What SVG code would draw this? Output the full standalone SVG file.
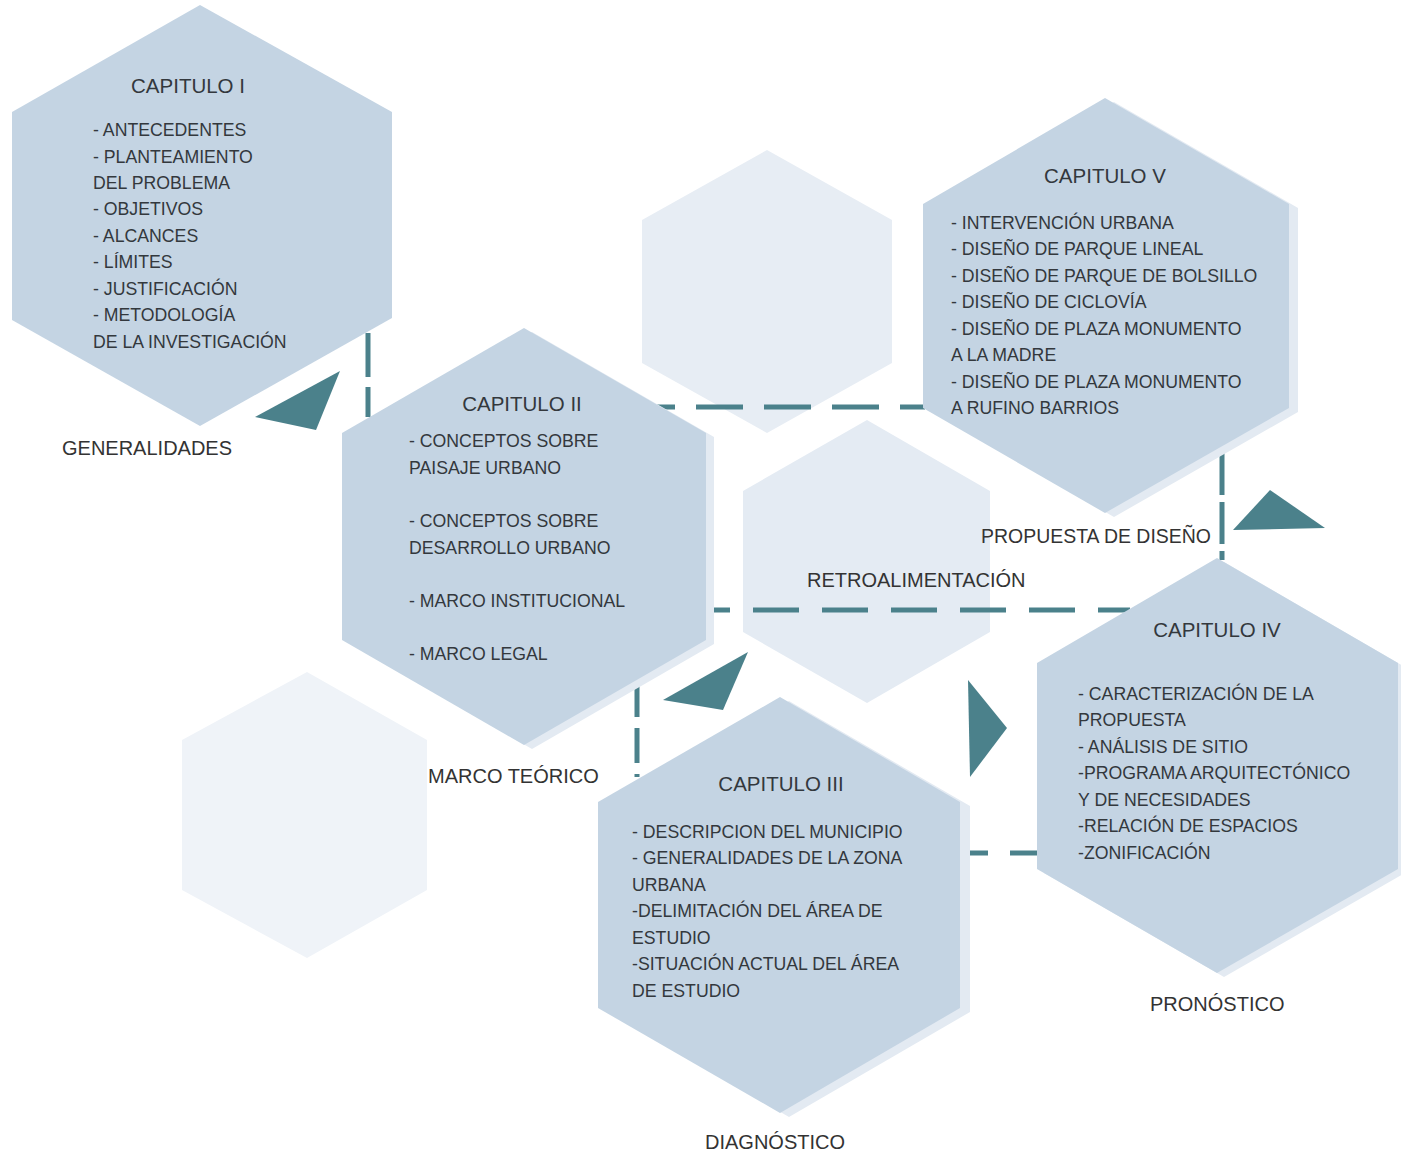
<svg xmlns="http://www.w3.org/2000/svg" width="1401" height="1157" viewBox="0 0 1401 1157">
<style>
.hex{fill:#c4d4e3}
.shadow{fill:#e3eaf2}
.faint{fill:#e7edf4}
.dash{stroke:#4b818b;stroke-width:5;fill:none}
.tri{fill:#4b818b}
text{font-family:"Liberation Sans",Arial,sans-serif;fill:#33383d}
.title{font-size:20.5px;text-anchor:middle}
.body{font-size:17.7px}
.label{font-size:20px;fill:#333333}
</style>
<rect width="1401" height="1157" fill="#ffffff"/>
<g id="background-hexes">
<polygon class="faint" points="767,150 892,220 892,363 767,433 642,363 642,220"/>
<polygon class="faint" style="fill:#e4ebf3" points="867,420 990,491 990,632 867,703 743,632 743,491"/>
<polygon class="faint" style="fill:#eff3f8" points="307,672 427,740 427,890 307,958 182,890 182,740"/>
</g>
<g id="connectors">
<line class="dash" x1="368" y1="333" x2="368" y2="417" stroke-dasharray="44 10"/>
<line class="dash" x1="655" y1="407" x2="925" y2="407" stroke-dasharray="47 21" stroke-dashoffset="27"/>
<line class="dash" x1="1222" y1="453" x2="1222" y2="560" stroke-dasharray="42 7"/>
<line class="dash" x1="703" y1="610" x2="1130" y2="610" stroke-dasharray="46 23" stroke-dashoffset="19"/>
<line class="dash" x1="637" y1="682" x2="637" y2="777" stroke-dasharray="35 11"/>
<line class="dash" x1="960" y1="853" x2="1037" y2="853" stroke-dasharray="28 22"/>
</g>
<g id="arrows">
<polygon class="tri" points="340,371 255,417 316,430"/>
<polygon class="tri" points="748,652 663,700 723,710"/>
<polygon class="tri" points="968,680 1007,728 970,777"/>
<polygon class="tri" points="1270,490 1233,530 1325,528"/>
</g>
<g id="capitulo-i">
<polygon class="hex" points="200,5 392,112 392,318 200,426 12,320 12,112"/>
<text class="title" x="188" y="93">CAPITULO I</text>
<text class="body" x="93" y="136">- ANTECEDENTES</text>
<text class="body" x="93" y="163">- PLANTEAMIENTO</text>
<text class="body" x="93" y="189">DEL PROBLEMA</text>
<text class="body" x="93" y="215">- OBJETIVOS</text>
<text class="body" x="93" y="242">- ALCANCES</text>
<text class="body" x="93" y="268">- LÍMITES</text>
<text class="body" x="93" y="295">- JUSTIFICACIÓN</text>
<text class="body" x="93" y="321">- METODOLOGÍA</text>
<text class="body" x="93" y="348">DE LA INVESTIGACIÓN</text>
<text class="label" x="62" y="455">GENERALIDADES</text>
</g>
<g id="capitulo-ii">
<polygon class="shadow" points="532,332 714,437 714,644 532,749 350,644 350,437"/>
<polygon class="hex" points="524,328 706,433 706,640 524,745 342,640 342,433"/>
<text class="title" x="522" y="411">CAPITULO II</text>
<text class="body" x="409" y="447">- CONCEPTOS SOBRE</text>
<text class="body" x="409" y="474">PAISAJE URBANO</text>
<text class="body" x="409" y="527">- CONCEPTOS SOBRE</text>
<text class="body" x="409" y="554">DESARROLLO URBANO</text>
<text class="body" x="409" y="607">- MARCO INSTITUCIONAL</text>
<text class="body" x="409" y="660">- MARCO LEGAL</text>
<text class="label" x="428" y="783">MARCO TEÓRICO</text>
</g>
<g id="retroalimentacion">
<text class="label" x="807" y="587">RETROALIMENTACIÓN</text>
</g>
<g id="capitulo-v">
<polygon class="shadow" points="1114,102 1298,208 1298,412 1114,517 932,412 932,208"/>
<polygon class="hex" points="1105,98 1289,204 1289,408 1105,513 923,408 923,204"/>
<text class="title" x="1105" y="183">CAPITULO V</text>
<text class="body" x="951" y="229">- INTERVENCIÓN URBANA</text>
<text class="body" x="951" y="255">- DISEÑO DE PARQUE LINEAL</text>
<text class="body" x="951" y="282">- DISEÑO DE PARQUE DE BOLSILLO</text>
<text class="body" x="951" y="308">- DISEÑO DE CICLOVÍA</text>
<text class="body" x="951" y="335">- DISEÑO DE PLAZA MONUMENTO</text>
<text class="body" x="951" y="361">A LA MADRE</text>
<text class="body" x="951" y="388">- DISEÑO DE PLAZA MONUMENTO</text>
<text class="body" x="951" y="414">A RUFINO BARRIOS</text>
<text class="label" x="981" y="543" textLength="230" lengthAdjust="spacingAndGlyphs">PROPUESTA DE DISEÑO</text>
</g>
<g id="capitulo-iv">
<polygon class="shadow" points="1224,562 1405,667 1405,873 1224,977 1044,873 1044,667"/>
<polygon class="hex" points="1217,558 1398,663 1398,869 1217,973 1037,869 1037,663"/>
<text class="title" x="1217" y="637">CAPITULO IV</text>
<text class="body" x="1078" y="700">- CARACTERIZACIÓN DE LA</text>
<text class="body" x="1078" y="726">PROPUESTA</text>
<text class="body" x="1078" y="753">- ANÁLISIS DE SITIO</text>
<text class="body" x="1078" y="779">-PROGRAMA ARQUITECTÓNICO</text>
<text class="body" x="1078" y="806">Y DE NECESIDADES</text>
<text class="body" x="1078" y="832">-RELACIÓN DE ESPACIOS</text>
<text class="body" x="1078" y="859">-ZONIFICACIÓN</text>
<text class="label" x="1150" y="1011">PRONÓSTICO</text>
</g>
<g id="capitulo-iii">
<polygon class="shadow" points="789,701 970,806 970,1012 789,1117 608,1012 608,806"/>
<polygon class="hex" points="780,697 960,802 960,1008 780,1113 598,1008 598,802"/>
<text class="title" x="781" y="791">CAPITULO III</text>
<text class="body" x="632" y="838">- DESCRIPCION DEL MUNICIPIO</text>
<text class="body" x="632" y="864">- GENERALIDADES DE LA ZONA</text>
<text class="body" x="632" y="891">URBANA</text>
<text class="body" x="632" y="917">-DELIMITACIÓN DEL ÁREA DE</text>
<text class="body" x="632" y="944">ESTUDIO</text>
<text class="body" x="632" y="970">-SITUACIÓN ACTUAL DEL ÁREA</text>
<text class="body" x="632" y="997">DE ESTUDIO</text>
<text class="label" x="705" y="1149">DIAGNÓSTICO</text>
</g>
</svg>
